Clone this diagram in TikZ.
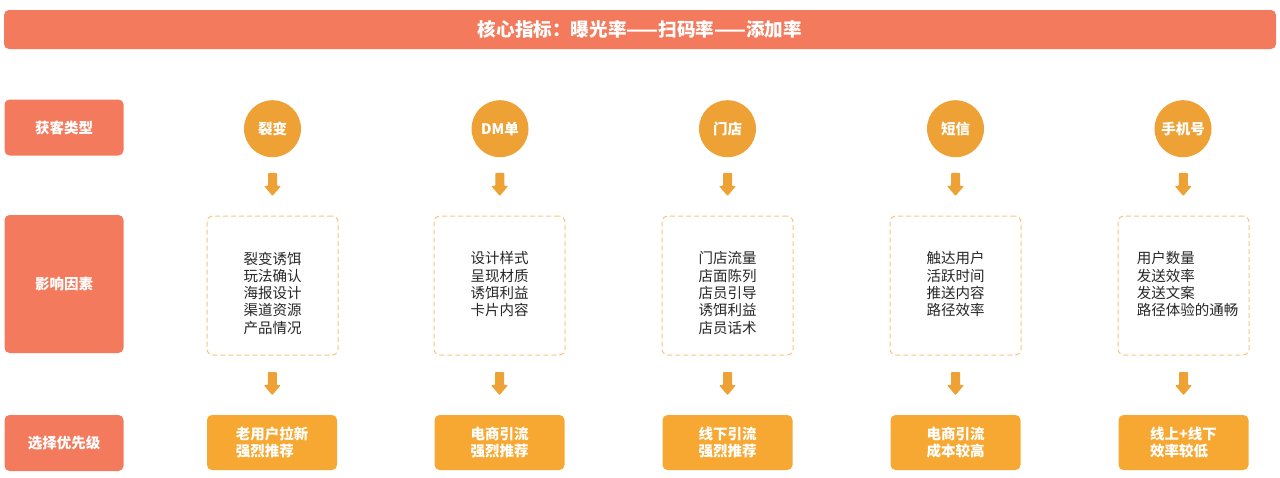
\documentclass[tikz,border=0pt]{standalone}
\usepackage{fontspec}
\setmainfont{Noto Sans CJK SC}
\usetikzlibrary{calc}
\definecolor{salmon}{HTML}{F37A5D}
\definecolor{circcol}{HTML}{EEA236}
\definecolor{boxcol}{HTML}{F7A832}
\definecolor{dashcol}{HTML}{FAC47F}
\definecolor{txtcol}{HTML}{262626}
\tikzset{
  bar/.style={fill=salmon, rounded corners=5pt, minimum width=1272pt, minimum height=39pt, inner sep=0pt,
    text=white, font=\bfseries\fontsize{18.6}{21}\selectfont},
  lab/.style={fill=salmon, rounded corners=5pt, minimum width=119pt, inner sep=0pt,
    text=white, font=\bfseries\fontsize{14.5}{17}\selectfont},
  circ/.style={circle, fill=circcol, minimum size=57pt, inner sep=0pt,
    text=white, font=\bfseries\fontsize{14.5}{17}\selectfont},
  dbox/.style={draw=dashcol, dashed, dash pattern=on 5pt off 3pt, line width=1pt, rounded corners=6pt,
    minimum width=131pt, minimum height=139pt, inner sep=0pt},
  ftext/.style={text=txtcol, align=left, inner sep=0pt, font=\fontsize{14.5}{17.3}\selectfont},
  obox/.style={fill=boxcol, rounded corners=5pt, minimum width=130pt, minimum height=55pt, inner sep=0pt,
    text=white, align=left, font=\bfseries\fontsize{14.5}{16.7}\selectfont},
  downarr/.pic={\fill[circcol, rounded corners=0.8pt] (-4.5,-11.5) -- (4.5,-11.5) -- (4.5,1.5) -- (8.5,1.5) -- (0,11.5) -- (-8.5,1.5) -- (-4.5,1.5) -- cycle;}
}
\begin{document}
\begin{tikzpicture}[x=1pt,y=-1pt]
\useasboundingbox (0,0) rectangle (1280,477);
\node[bar] (title) at (640,29.5) {核心指标：曝光率——扫码率——添加率};
\node[lab, minimum height=56pt] (l1) at (64,127.5) {获客类型};
\node[lab, minimum height=138pt] (l2) at (64,284) {影响因素};
\node[lab, minimum height=56pt] (l3) at (64,443) {选择优先级};
% columns
\node[circ] (c1) at (272.5,128.7) {裂变};
\node[circ] (c2) at (500,128.7) {DM单};
\node[circ] (c3) at (727.5,128.7) {门店};
\node[circ] (c4) at (955.5,128.7) {短信};
\node[circ] (c5) at (1183,128.7) {手机号};
\node[dbox] (d1) at (272.5,285.5) {};
\node[dbox] (d2) at (499.5,285.5) {};
\node[dbox] (d3) at (727.5,285.5) {};
\node[dbox] (d4) at (955.5,285.5) {};
\node[dbox] (d5) at (1183.5,285.5) {};
\node[ftext, anchor=north] (t1) at ([yshift=-36pt]d1.north) {裂变诱饵\\玩法确认\\海报设计\\渠道资源\\产品情况};
\node[ftext, anchor=north] (t2) at ([yshift=-36pt]d2.north) {设计样式\\呈现材质\\诱饵利益\\卡片内容};
\node[ftext, anchor=north] (t3) at ([yshift=-36pt]d3.north) {门店流量\\店面陈列\\店员引导\\诱饵利益\\店员话术};
\node[ftext, anchor=north] (t4) at ([yshift=-36pt]d4.north) {触达用户\\活跃时间\\推送内容\\路径效率};
\node[ftext, anchor=north] (t5) at ([yshift=-36pt,xshift=4pt]d5.north) {用户数量\\发送效率\\发送文案\\路径体验的通畅};
\node[obox] (b1) at (272,442.5) {老用户拉新\\强烈推荐};
\node[obox] (b2) at (499.5,442.5) {电商引流\\强烈推荐};
\node[obox] (b3) at (727.5,442.5) {线下引流\\强烈推荐};
\node[obox] (b4) at (955.5,442.5) {电商引流\\成本较高};
\node[obox] (b5) at (1183.5,442.5) {线上+线下\\效率较低};
\foreach \i in {1,...,5} {
  \path ($(c\i.south)!0.5!(d\i.north)+(0,-2)$) pic {downarr};
  \path ($(d\i.south)!0.5!(b\i.north)+(0,-1.5)$) pic {downarr};
}
\end{tikzpicture}
\end{document}
